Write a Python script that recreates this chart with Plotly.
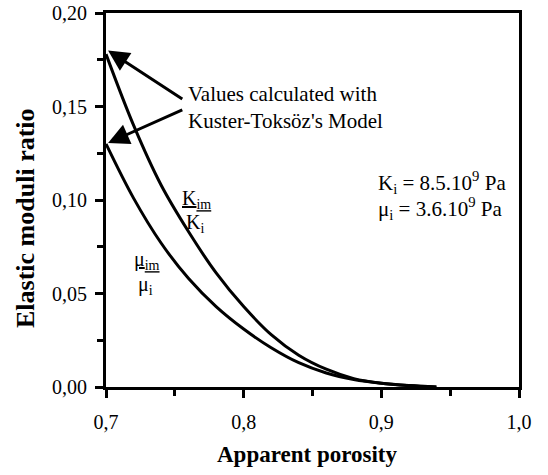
import plotly.graph_objects as go

porosity = [0.70, 0.72, 0.74, 0.76, 0.78, 0.80, 0.82, 0.84, 0.86, 0.88, 0.90, 0.92, 0.94]
k_ratio = [0.178, 0.140, 0.108, 0.083, 0.061, 0.043, 0.028, 0.017, 0.0095, 0.0045, 0.002, 0.0008, 0.0]
mu_ratio = [0.130, 0.101, 0.077, 0.058, 0.043, 0.031, 0.021, 0.013, 0.0075, 0.004, 0.002, 0.0008, 0.0]

x_ticks = [0.7, 0.8, 0.9, 1.0]
x_labels = ["0,7", "0,8", "0,9", "1,0"]
y_ticks = [0.0, 0.05, 0.10, 0.15, 0.20]
y_labels = ["0,00", "0,05", "0,10", "0,15", "0,20"]

SERIF = "Liberation Serif, Times New Roman, serif"

fig = go.Figure()
for ys in (k_ratio, mu_ratio):
    fig.add_trace(go.Scatter(x=porosity, y=ys, mode="lines",
                             line=dict(color="black", width=3, shape="spline", smoothing=1.0),
                             showlegend=False, hoverinfo="skip"))

axis_common = dict(
    showgrid=False, zeroline=False, showline=True, linecolor="black", linewidth=3, mirror=True,
    ticks="outside", tickcolor="black", tickwidth=3, ticklen=8, automargin=False,
    ticklabeloverflow="allow",
    tickfont=dict(family=SERIF, size=20, color="black"),
)
fig.update_xaxes(range=[0.7, 1.0], tickvals=x_ticks, ticktext=x_labels, ticklabelstandoff=7,
                 minor=dict(dtick=0.05, ticks="outside", ticklen=6, tickwidth=3, tickcolor="black"),
                 **axis_common)
fig.update_yaxes(range=[0.0, 0.2], tickvals=y_ticks, ticktext=y_labels, ticklabelstandoff=4,
                 minor=dict(dtick=0.025, ticks="outside", ticklen=6, tickwidth=3, tickcolor="black"),
                 **axis_common)

TXT = 21
ann = []
# arrows
ann.append(dict(x=0.7015, y=0.180, ax=0.7565, ay=0.1535, xref="x", yref="y", axref="x", ayref="y",
                text="", showarrow=True, arrowhead=2, arrowsize=1.4, arrowwidth=3, arrowcolor="black"))
ann.append(dict(x=0.7015, y=0.1305, ax=0.7565, ay=0.1485, xref="x", yref="y", axref="x", ayref="y",
                text="", showarrow=True, arrowhead=2, arrowsize=1.4, arrowwidth=3, arrowcolor="black"))
ann.append(dict(x=0.758, y=0.1497, xref="x", yref="y", xanchor="left", yanchor="middle", align="left",
                text="Values calculated with<br>Kuster-Toksöz's Model", showarrow=False,
                font=dict(family=SERIF, size=TXT, color="black")))
# fraction labels
ann.append(dict(x=0.766, y=0.1005, xref="x", yref="y", text="<u>K<sub>im</sub></u>", showarrow=False,
                xanchor="center", yanchor="middle", font=dict(family=SERIF, size=20, color="black")))
ann.append(dict(x=0.7646, y=0.0877, xref="x", yref="y", text="K<sub>i</sub>", showarrow=False,
                xanchor="center", yanchor="middle", font=dict(family=SERIF, size=20, color="black")))
ann.append(dict(x=0.7298, y=0.0679, xref="x", yref="y", text="<u>μ<sub>im</sub></u>", showarrow=False,
                xanchor="center", yanchor="middle", font=dict(family=SERIF, size=20, color="black")))
ann.append(dict(x=0.729, y=0.0545, xref="x", yref="y", text="μ<sub>i</sub>", showarrow=False,
                xanchor="center", yanchor="middle", font=dict(family=SERIF, size=20, color="black")))
# constants
ann.append(dict(x=0.896, y=0.1096, xref="x", yref="y", xanchor="left", yanchor="middle",
                text="K<sub>i</sub> = 8.5.10<sup>9</sup> Pa",
                showarrow=False, font=dict(family=SERIF, size=TXT, color="black")))
ann.append(dict(x=0.896, y=0.0952, xref="x", yref="y", xanchor="left", yanchor="middle",
                text="μ<sub>i</sub> = 3.6.10<sup>9</sup> Pa",
                showarrow=False, font=dict(family=SERIF, size=TXT, color="black")))
# axis titles (positions in page pixels)
ann.append(dict(x=25, y=218, xref="paper", yref="paper", text="<b>Elastic moduli ratio</b>", showarrow=False,
                xanchor="center", yanchor="middle",
                textangle=-90, font=dict(family=SERIF, size=26, color="black")))
ann.append(dict(x=307, y=454, xref="paper", yref="paper", text="<b>Apparent porosity</b>", showarrow=False,
                xanchor="center", yanchor="middle",
                font=dict(family=SERIF, size=23, color="black")))

W, H = 548, 475
PL, PR, PT, PB = 106, 519, 13, 387   # plot area in page pixels
L, T, R, B = PL, PT, W - PR, H - PB
pw, ph = PR - PL, PB - PT
for a in ann[-2:]:
    px, py = a["x"], a["y"]
    a["x"] = (px - PL) / pw
    a["y"] = (PB - py) / ph

fig.update_layout(
    width=W, height=H, margin=dict(l=L, r=R, t=T, b=B, autoexpand=False),
    paper_bgcolor="white", plot_bgcolor="white",
    annotations=ann, showlegend=False,
)
fig.write_html("out.html", config={"displayModeBar": False},
               post_script="document.body.style.margin='0';")
